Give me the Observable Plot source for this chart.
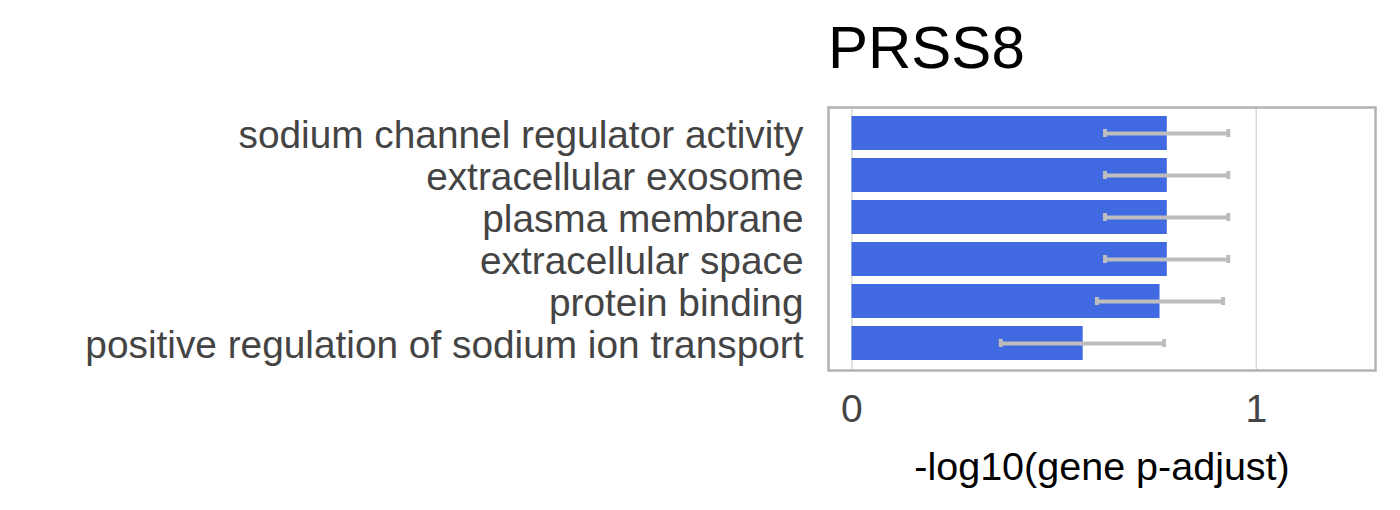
<!DOCTYPE html>
<html>
<head>
<meta charset="utf-8">
<script src="https://cdn.jsdelivr.net/npm/d3@7"></script>
<script src="https://cdn.jsdelivr.net/npm/@observablehq/plot@0.6"></script>
<style>
  body { margin: 0; background: #fff; font-family: "Liberation Sans", Arial, sans-serif; }
  #title { height: 90px; line-height: 96px; font-size: 60px; padding-left: 828px; color: #000; overflow: visible; white-space: nowrap; }
</style>
</head>
<body>
<div id="title">PRSS8</div>
<div id="chart"></div>
<script>
const terms = [
  "sodium channel regulator activity",
  "extracellular exosome",
  "plasma membrane",
  "extracellular space",
  "protein binding",
  "positive regulation of sodium ion transport"
];
const values = [0.780, 0.780, 0.780, 0.780, 0.762, 0.572];
const errLow = [0.626, 0.626, 0.626, 0.626, 0.606, 0.368];
const errHigh = [0.931, 0.931, 0.931, 0.931, 0.918, 0.772];
const xTicks = [0, 1];
const xLabel = "-log10(gene p-adjust)";

const data = terms.map((t, i) => ({term: t, value: values[i], lo: errLow[i], hi: errHigh[i]}));

const chart = Plot.plot({
  width: 1400,
  height: 420,
  marginLeft: 828,
  marginRight: 25,
  marginTop: 17,
  marginBottom: 140,
  style: {fontFamily: "'Liberation Sans', Arial, sans-serif", background: "#fff"},
  x: {domain: [-0.058, 1.295]},
  y: {domain: terms, paddingInner: 0.18, paddingOuter: 0.09, insetTop: 3, insetBottom: 3},
  marks: [
    Plot.ruleX(xTicks, {stroke: "#d9d9d9", strokeWidth: 1.5}),
    Plot.barX(data, {x: "value", y: "term", fill: "#4169E1"}),
    Plot.link(data, {x1: "lo", x2: "hi", y1: "term", y2: "term", stroke: "#bdbdbd", strokeWidth: 4}),
    Plot.tickX(data, {x: "lo", y: "term", stroke: "#bdbdbd", strokeWidth: 4, insetTop: 13, insetBottom: 13}),
    Plot.tickX(data, {x: "hi", y: "term", stroke: "#bdbdbd", strokeWidth: 4, insetTop: 13, insetBottom: 13}),
    Plot.frame({stroke: "#b3b3b3", strokeWidth: 2.5}),
    Plot.axisY({tickSize: 0, tickPadding: 25, fontSize: 38.8, fill: "#444", label: null, dy: 2}),
    Plot.axisX({ticks: xTicks, tickSize: 0, tickPadding: 24, fontSize: 39, fill: "#444", tickFormat: d3.format("d"), label: null}),
    Plot.axisX({ticks: [], tickSize: 0, fontSize: 39.5, fill: "#000",
      label: xLabel, labelAnchor: "center", labelOffset: 109, labelArrow: "none"})
  ]
});
document.getElementById("chart").appendChild(chart);
</script>
</body>
</html>
